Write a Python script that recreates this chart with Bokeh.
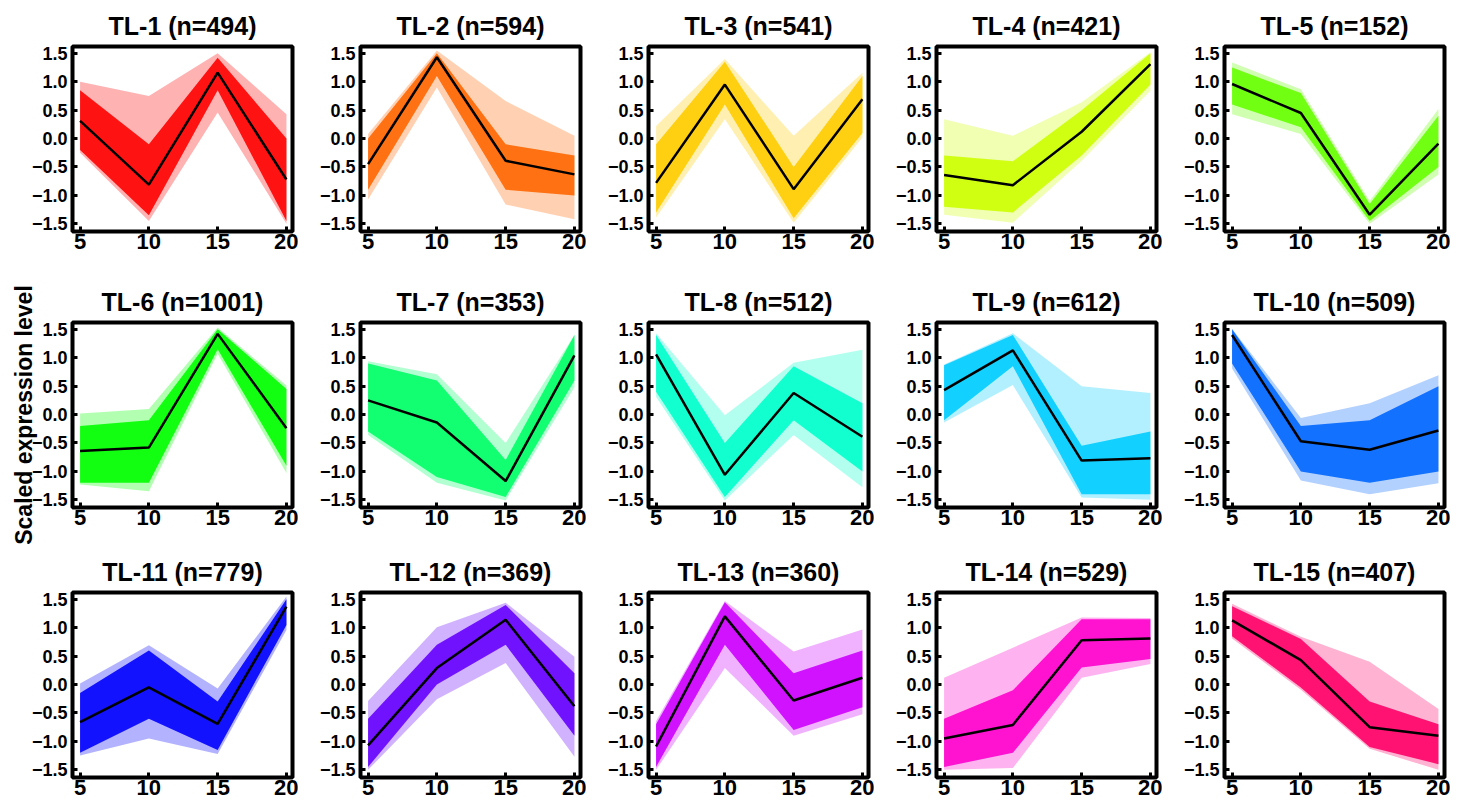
from bokeh.plotting import figure
from bokeh.layouts import column, row
from bokeh.models import FixedTicker
from bokeh.embed import file_html
from bokeh.resources import INLINE

# ---------------- data ----------------
time_points = [5, 10, 15, 20]
cluster_names = ["TL-1", "TL-2", "TL-3", "TL-4", "TL-5",
                 "TL-6", "TL-7", "TL-8", "TL-9", "TL-10",
                 "TL-11", "TL-12", "TL-13", "TL-14", "TL-15"]
gene_counts = [494, 594, 541, 421, 152, 1001, 353, 512, 612, 509,
               779, 369, 360, 529, 407]
y_tick_values = [-1.5, -1.0, -0.5, 0.0, 0.5, 1.0, 1.5]
y_tick_labels = ["\u22121.5", "\u22121.0", "\u22120.5", "0.0", "0.5", "1.0", "1.5"]
x_tick_values = [5, 10, 15, 20]

# cluster mean profile (black line)
mean_profile = [
    [0.31, -0.81, 1.16, -0.72],
    [-0.45, 1.43, -0.39, -0.63],
    [-0.78, 0.95, -0.89, 0.69],
    [-0.64, -0.82, 0.12, 1.31],
    [0.96, 0.45, -1.34, -0.09],
    [-0.64, -0.58, 1.42, -0.24],
    [0.25, -0.14, -1.17, 1.04],
    [1.06, -1.06, 0.38, -0.39],
    [0.43, 1.13, -0.81, -0.77],
    [1.40, -0.47, -0.62, -0.28],
    [-0.66, -0.05, -0.69, 1.37],
    [-1.07, 0.29, 1.14, -0.38],
    [-1.09, 1.20, -0.28, 0.12],
    [-0.95, -0.71, 0.78, 0.81],
    [1.13, 0.43, -0.75, -0.90],
]
# outer envelope of member genes (faint lines)
upper = [
    [1.00, 0.75, 1.50, 0.43],
    [0.08, 1.55, 0.66, 0.05],
    [0.22, 1.40, 0.05, 1.16],
    [0.34, 0.05, 0.64, 1.52],
    [1.34, 0.87, -1.10, 0.52],
    [0.02, 0.10, 1.53, 0.51],
    [0.94, 0.71, -0.50, 1.40],
    [1.43, -0.01, 0.91, 1.14],
    [0.88, 1.43, 0.50, 0.38],
    [1.51, -0.06, 0.20, 0.69],
    [0.02, 0.69, -0.07, 1.55],
    [-0.29, 1.01, 1.44, 0.49],
    [-0.64, 1.47, 0.58, 0.97],
    [0.12, 0.65, 1.18, 1.17],
    [1.42, 0.84, 0.40, -0.43],
]
lower = [
    [-0.25, -1.45, 0.46, -1.50],
    [-1.07, 0.90, -1.16, -1.42],
    [-1.39, 0.34, -1.48, 0.02],
    [-1.34, -1.48, -0.39, 0.84],
    [0.43, 0.08, -1.50, -0.63],
    [-1.23, -1.35, 1.07, -1.03],
    [-0.36, -1.20, -1.51, 0.48],
    [0.31, -1.51, -0.36, -1.28],
    [-0.14, 0.52, -1.46, -1.50],
    [0.81, -1.16, -1.40, -1.21],
    [-1.25, -0.95, -1.22, 0.96],
    [-1.50, -0.26, 0.38, -1.27],
    [-1.50, 0.29, -0.90, -0.52],
    [-1.50, -1.47, 0.12, 0.36],
    [0.81, -0.09, -1.13, -1.50],
]
# dense core of member genes (saturated colour)
core_upper = [
    [0.85, -0.10, 1.42, 0.00],
    [0.00, 1.50, -0.10, -0.30],
    [-0.10, 1.35, -0.50, 1.10],
    [-0.30, -0.40, 0.50, 1.50],
    [1.25, 0.80, -1.15, 0.40],
    [-0.20, -0.10, 1.50, 0.45],
    [0.90, 0.60, -0.80, 1.40],
    [1.40, -0.50, 0.85, 0.20],
    [0.87, 1.40, -0.55, -0.30],
    [1.50, -0.20, -0.10, 0.50],
    [-0.15, 0.60, -0.30, 1.50],
    [-0.60, 0.70, 1.40, 0.20],
    [-0.70, 1.45, 0.20, 0.60],
    [-0.60, -0.10, 1.15, 1.15],
    [1.38, 0.80, -0.30, -0.70],
]
core_lower = [
    [-0.20, -1.35, 0.85, -1.45],
    [-0.90, 1.10, -0.90, -1.00],
    [-1.30, 0.60, -1.40, 0.10],
    [-1.20, -1.30, -0.30, 0.95],
    [0.60, 0.20, -1.45, -0.50],
    [-1.20, -1.20, 1.15, -0.90],
    [-0.30, -1.10, -1.45, 0.60],
    [0.40, -1.45, -0.10, -1.00],
    [-0.10, 0.85, -1.40, -1.40],
    [0.90, -1.00, -1.20, -1.00],
    [-1.20, -0.60, -1.15, 1.05],
    [-1.45, 0.00, 0.70, -0.90],
    [-1.45, 0.70, -0.80, -0.40],
    [-1.45, -1.20, 0.30, 0.45],
    [0.85, -0.05, -1.10, -1.40],
]

# ---------------- styling ----------------
palette = ["#FF0000", "#FF6600", "#FFCC00", "#CCFF00", "#66FF00",
           "#00FF00", "#00FF66", "#00FFCC", "#00CCFF", "#0066FF",
           "#0000FF", "#6600FF", "#CC00FF", "#FF00CC", "#FF0066"]
FONT = "Liberation Sans"

label_map = {v: s for v, s in zip(y_tick_values, y_tick_labels)}

figs = []
for i in range(15):
    r, c = divmod(i, 5)
    p = figure(
        frame_width=220, frame_height=185,
        x_range=(4.45, 20.44), y_range=(-1.635, 1.62),
        min_border_left=72 if c == 0 else 62,
        min_border_right=6,
        min_border_top=46,
        min_border_bottom=[45, 39, 27][r],
        output_backend="svg", toolbar_location=None,
        title=f"{cluster_names[i]} (n={gene_counts[i]})",
    )
    p.title.align = "center"
    p.title.text_font = FONT
    p.title.text_font_size = "25px"
    p.title.text_font_style = "bold"
    p.title.text_color = "black"
    p.title.standoff = 14

    col = palette[i]
    p.varea(x=time_points, y1=lower[i], y2=upper[i],
            fill_color=col, fill_alpha=0.3)
    p.varea(x=time_points, y1=core_lower[i], y2=core_upper[i],
            fill_color=col, fill_alpha=0.9)
    p.line(time_points, mean_profile[i], line_color="black", line_width=2.5)

    p.xgrid.visible = False
    p.ygrid.visible = False
    p.outline_line_color = "black"
    p.outline_line_width = 4
    p.outline_line_alpha = 1.0
    p.background_fill_color = "white"
    p.border_fill_color = "white"

    p.xaxis.ticker = FixedTicker(ticks=x_tick_values)
    p.yaxis.ticker = FixedTicker(ticks=y_tick_values)
    p.yaxis.major_label_overrides = label_map
    for ax in (p.xaxis, p.yaxis):
        ax.axis_line_color = None
        ax.major_tick_in = 5
        ax.major_tick_out = 0
        ax.major_tick_line_width = 3
        ax.major_tick_line_color = "black"
        ax.minor_tick_line_color = None
        ax.major_label_text_font = FONT
        ax.major_label_text_font_style = "bold"
        ax.major_label_text_color = "black"
    p.xaxis.major_label_text_font_size = "22px"
    p.xaxis.major_label_standoff = 2
    p.yaxis.major_label_text_font_size = "18px"
    p.yaxis.major_label_standoff = 5

    if i == 5:
        p.yaxis.axis_label = "Scaled expression level"
        p.yaxis.axis_label_text_font = FONT
        p.yaxis.axis_label_text_font_size = "23px"
        p.yaxis.axis_label_text_font_style = "bold"
        p.yaxis.axis_label_text_color = "black"
        p.yaxis.axis_label_standoff = -8
    figs.append(p)

layout = column(row(*figs[0:5]), row(*figs[5:10]), row(*figs[10:15]))

open("out.html", "w").write(file_html(layout, INLINE))
